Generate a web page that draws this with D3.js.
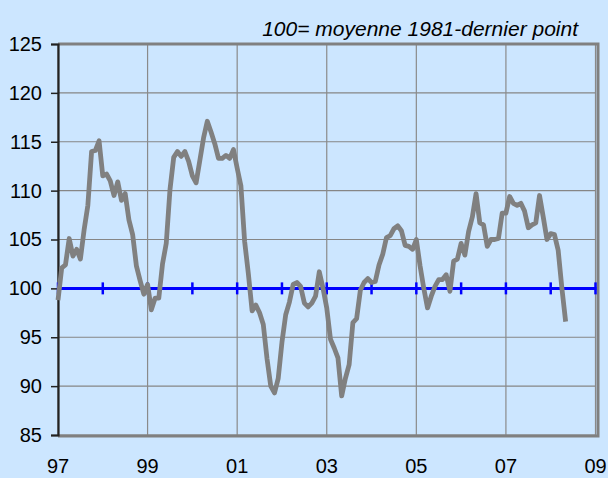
<!DOCTYPE html>
<html>
<head>
<meta charset="utf-8">
<script src="https://cdn.jsdelivr.net/npm/d3@7"></script>
<style>
  html, body { margin: 0; padding: 0; background: #CCE6FF; }
  svg { display: block; }
  text { font-family: "Liberation Sans", Arial, sans-serif; fill: #000; }
</style>
</head>
<body>
<svg id="chart" width="608" height="478"></svg>
<script>
// ---- Data ----
const startYear = 1997;
const endYear = 2009;
// Monthly index values, Jan 1997 .. May 2008
const values = [
  98.8, 102.1, 102.4, 105.1, 103.3, 104.0, 103.0, 106.0, 108.5, 114.0, 114.1, 115.1,
  111.5, 111.7, 111.0, 109.5, 110.9, 109.0, 109.7, 107.0, 105.5, 102.3, 100.8, 99.4,
  100.4, 97.8, 99.0, 99.0, 102.5, 104.6, 110.1, 113.4, 114.0, 113.5, 114.0, 113.0,
  111.5, 110.8, 113.1, 115.4, 117.1, 116.0, 114.8, 113.3, 113.3, 113.6, 113.3, 114.2,
  112.3, 110.5, 104.8, 101.5, 97.7, 98.3, 97.5, 96.3, 92.8, 90.0, 89.3, 90.8,
  94.5, 97.3, 98.6, 100.4, 100.6, 100.2, 98.5, 98.1, 98.5, 99.2, 101.7, 100.0,
  98.0, 94.8, 93.9, 92.9, 89.0, 90.8, 92.2, 96.5, 96.9, 99.8, 100.6, 101.0,
  100.6, 100.7, 102.4, 103.5, 105.2, 105.4, 106.1, 106.4, 105.9, 104.4, 104.3, 104.0,
  105.0, 102.3, 100.0, 98.0, 99.2, 100.2, 100.9, 100.9, 101.4, 99.7, 102.8, 103.0,
  104.6, 103.4, 105.8, 107.3, 109.7, 106.7, 106.5, 104.3, 105.0, 105.0, 105.1, 107.7,
  107.7, 109.4, 108.7, 108.5, 108.7, 107.9, 106.2, 106.5, 106.7, 109.5, 107.3, 105.0,
  105.6, 105.5, 103.9, 100.0, 96.6
];
const yTicks = [85, 90, 95, 100, 105, 110, 115, 120, 125];
const xTickYears = [1997, 1999, 2001, 2003, 2005, 2007, 2009];
const xTickLabels = ["97", "99", "01", "03", "05", "07", "09"];
const refLevel = 100;
const note = "100= moyenne 1981-dernier point";

// ---- Layout ----
const svg = d3.select("#chart");
const pLeft = 58, pRight = 595.5, pTop = 44, pBottom = 435;

const x = d3.scaleLinear().domain([startYear, endYear]).range([pLeft, pRight]);
const y = d3.scaleLinear().domain([85, 125]).range([pBottom, pTop]);

svg.append("rect").attr("x", 0).attr("y", 0).attr("width", 608).attr("height", 478).attr("fill", "#CCE6FF");

// gridlines
svg.append("g").selectAll("line").data(yTicks).join("line")
  .attr("x1", pLeft).attr("x2", pRight)
  .attr("y1", d => y(d)).attr("y2", d => y(d))
  .attr("stroke", "#868686").attr("stroke-width", 1.2);
svg.append("g").selectAll("line").data(xTickYears).join("line")
  .attr("x1", d => x(d)).attr("x2", d => x(d))
  .attr("y1", pTop).attr("y2", pBottom)
  .attr("stroke", "#8a8a8a").attr("stroke-width", 1.2);

// plot border (top, right, bottom)
svg.append("path")
  .attr("d", `M${pLeft},${pTop} H${pRight + 2.5} V${pBottom + 1} H${pLeft}`)
  .attr("fill", "none").attr("stroke", "#808080").attr("stroke-width", 3);

// left axis
const yAxis = d3.axisLeft(y).tickValues(yTicks).tickSize(7).tickPadding(9).tickFormat(d3.format("d"));
const gy = svg.append("g").attr("transform", `translate(${pLeft},0)`).call(yAxis);
gy.select(".domain").attr("stroke", "#222").attr("stroke-width", 2.2);
gy.selectAll(".tick line").attr("stroke", "#222").attr("stroke-width", 1.5);
gy.selectAll(".tick text").attr("font-size", 20).attr("font-family", "Liberation Sans, Arial, sans-serif").attr("fill", "#000");

// bottom labels
svg.append("g").selectAll("text").data(xTickYears).join("text")
  .attr("x", d => x(d)).attr("y", 473)
  .attr("text-anchor", "middle").attr("font-size", 20)
  .text((d, i) => xTickLabels[i]);

// reference line at 100 with yearly ticks
const years = d3.range(startYear, endYear + 1);
svg.append("line")
  .attr("x1", pLeft).attr("x2", pRight + 1)
  .attr("y1", y(refLevel)).attr("y2", y(refLevel))
  .attr("stroke", "#0000FF").attr("stroke-width", 3);
svg.append("g").selectAll("line").data(years).join("line")
  .attr("x1", d => x(d)).attr("x2", d => x(d))
  .attr("y1", y(refLevel) - 6).attr("y2", y(refLevel) + 6)
  .attr("stroke", "#0000FF").attr("stroke-width", 2.5);

// data line
const line = d3.line()
  .x((d, i) => x(startYear + i / 12))
  .y(d => y(d));
svg.append("path").datum(values)
  .attr("d", line)
  .attr("fill", "none").attr("stroke", "#808080").attr("stroke-width", 4.8)
  .attr("stroke-linejoin", "round").attr("stroke-linecap", "butt");

// note
svg.append("text")
  .attr("x", 578).attr("y", 36)
  .attr("text-anchor", "end").attr("font-size", 21).attr("font-style", "italic")
  .text(note);
</script>
</body>
</html>
